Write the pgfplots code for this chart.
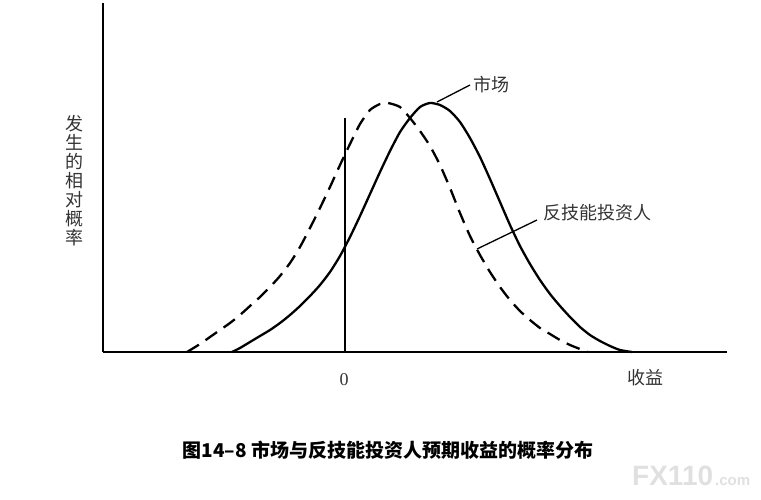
\documentclass[border=0pt]{standalone}
\usepackage{pgfplots}
\pgfplotsset{compat=1.18}
\usepackage{fontspec}
\newfontfamily\cjk{Noto Sans CJK SC}
\newfontfamily\wm{Liberation Sans}
\newfontfamily\srf{Liberation Serif}
\begin{document}
\begin{tikzpicture}
\path[use as bounding box] (-103pt,-147pt) rectangle (658pt,352pt);
\begin{axis}[at={(0pt,0pt)}, anchor=south west, scale only axis,
  width=624pt, height=349pt, xmin=103, xmax=727, ymin=0, ymax=349,
  axis lines=left, axis line style={-, line width=1.8pt, black},
  xtick=\empty, ytick=\empty, clip=false]
% market (solid)
\addplot[black, line width=2.3pt, smooth, tension=0.4] coordinates {
(232,0) (240,4) (250,10) (260,16) (270,22) (280,29) (290,37) (300,46)
(310,56) (320,67) (330,80) (340,96) (350,115) (360,136) (370,158) (380,180)
(390,201) (400,220) (410,234) (420,245) (430,249) (440,247) (450,241)
(460,230) (470,214) (480,195) (490,173) (500,150) (510,127) (520,106)
(530,88) (540,72) (550,58) (560,46) (570,35) (580,25) (590,17) (600,11)
(610,6) (620,2) (632,0)};
% anti-skill investor (dashed)
\addplot[black, line width=2.3pt, smooth, tension=0.4, dash pattern=on 14pt off 8pt] coordinates {
(187,0) (200,8) (210,15) (220,22) (230,29) (240,37) (250,46) (260,55)
(270,65) (280,76) (290,89) (300,105) (310,124) (320,144) (330,165)
(340,187) (350,208) (360,228) (370,242) (380,248) (388,249) (400,245)
(410,234) (420,221) (430,206) (440,187) (450,164) (460,139) (470,116)
(480,97) (490,80) (500,65) (510,52) (520,41) (530,32) (540,24) (550,18)
(560,12) (570,7) (580,3) (588,0)};
% zero line
\addplot[black, line width=1.8pt] coordinates {(345,0) (345,234)};
% leader lines
\addplot[black, line width=1.3pt] coordinates {(437,250) (470,267)};
\addplot[black, line width=1.3pt] coordinates {(477,103) (537,132)};
% labels
\node[anchor=west, text=black!80, font=\cjk\fontsize{18}{19}\selectfont, inner sep=0pt] at (axis cs:473,267) {市场};
\node[anchor=west, text=black!80, font=\cjk\fontsize{18}{19}\selectfont, inner sep=0pt] at (axis cs:543,139) {反技能投资人};
\node[text=black!80, font=\cjk\fontsize{18}{19}\selectfont, inner sep=0pt] at (axis cs:645,-26) {收益};
\node[text=black!80, font=\srf\fontsize{18}{19}\selectfont, inner sep=0pt] at (axis cs:344,-28) {0};
\node[text=black!80, font=\cjk\fontsize{18}{19}\selectfont, inner sep=0pt, align=center] at (axis cs:75,171) {发\\生\\的\\相\\对\\概\\率};
\node[font=\cjk\bfseries\fontsize{19}{21}\selectfont, inner sep=0pt] at (axis cs:388,-98) {图14–8 市场与反技能投资人预期收益的概率分布};
\node[anchor=base west, text=black!12, font=\wm\bfseries\fontsize{28}{28}\selectfont, inner sep=0pt] at (axis cs:632,-133) {FX110};
\node[anchor=base west, text=black!12, font=\wm\bfseries\fontsize{15}{15}\selectfont, inner sep=0pt] at (axis cs:715,-133) {.com};
\end{axis}
\end{tikzpicture}
\end{document}
